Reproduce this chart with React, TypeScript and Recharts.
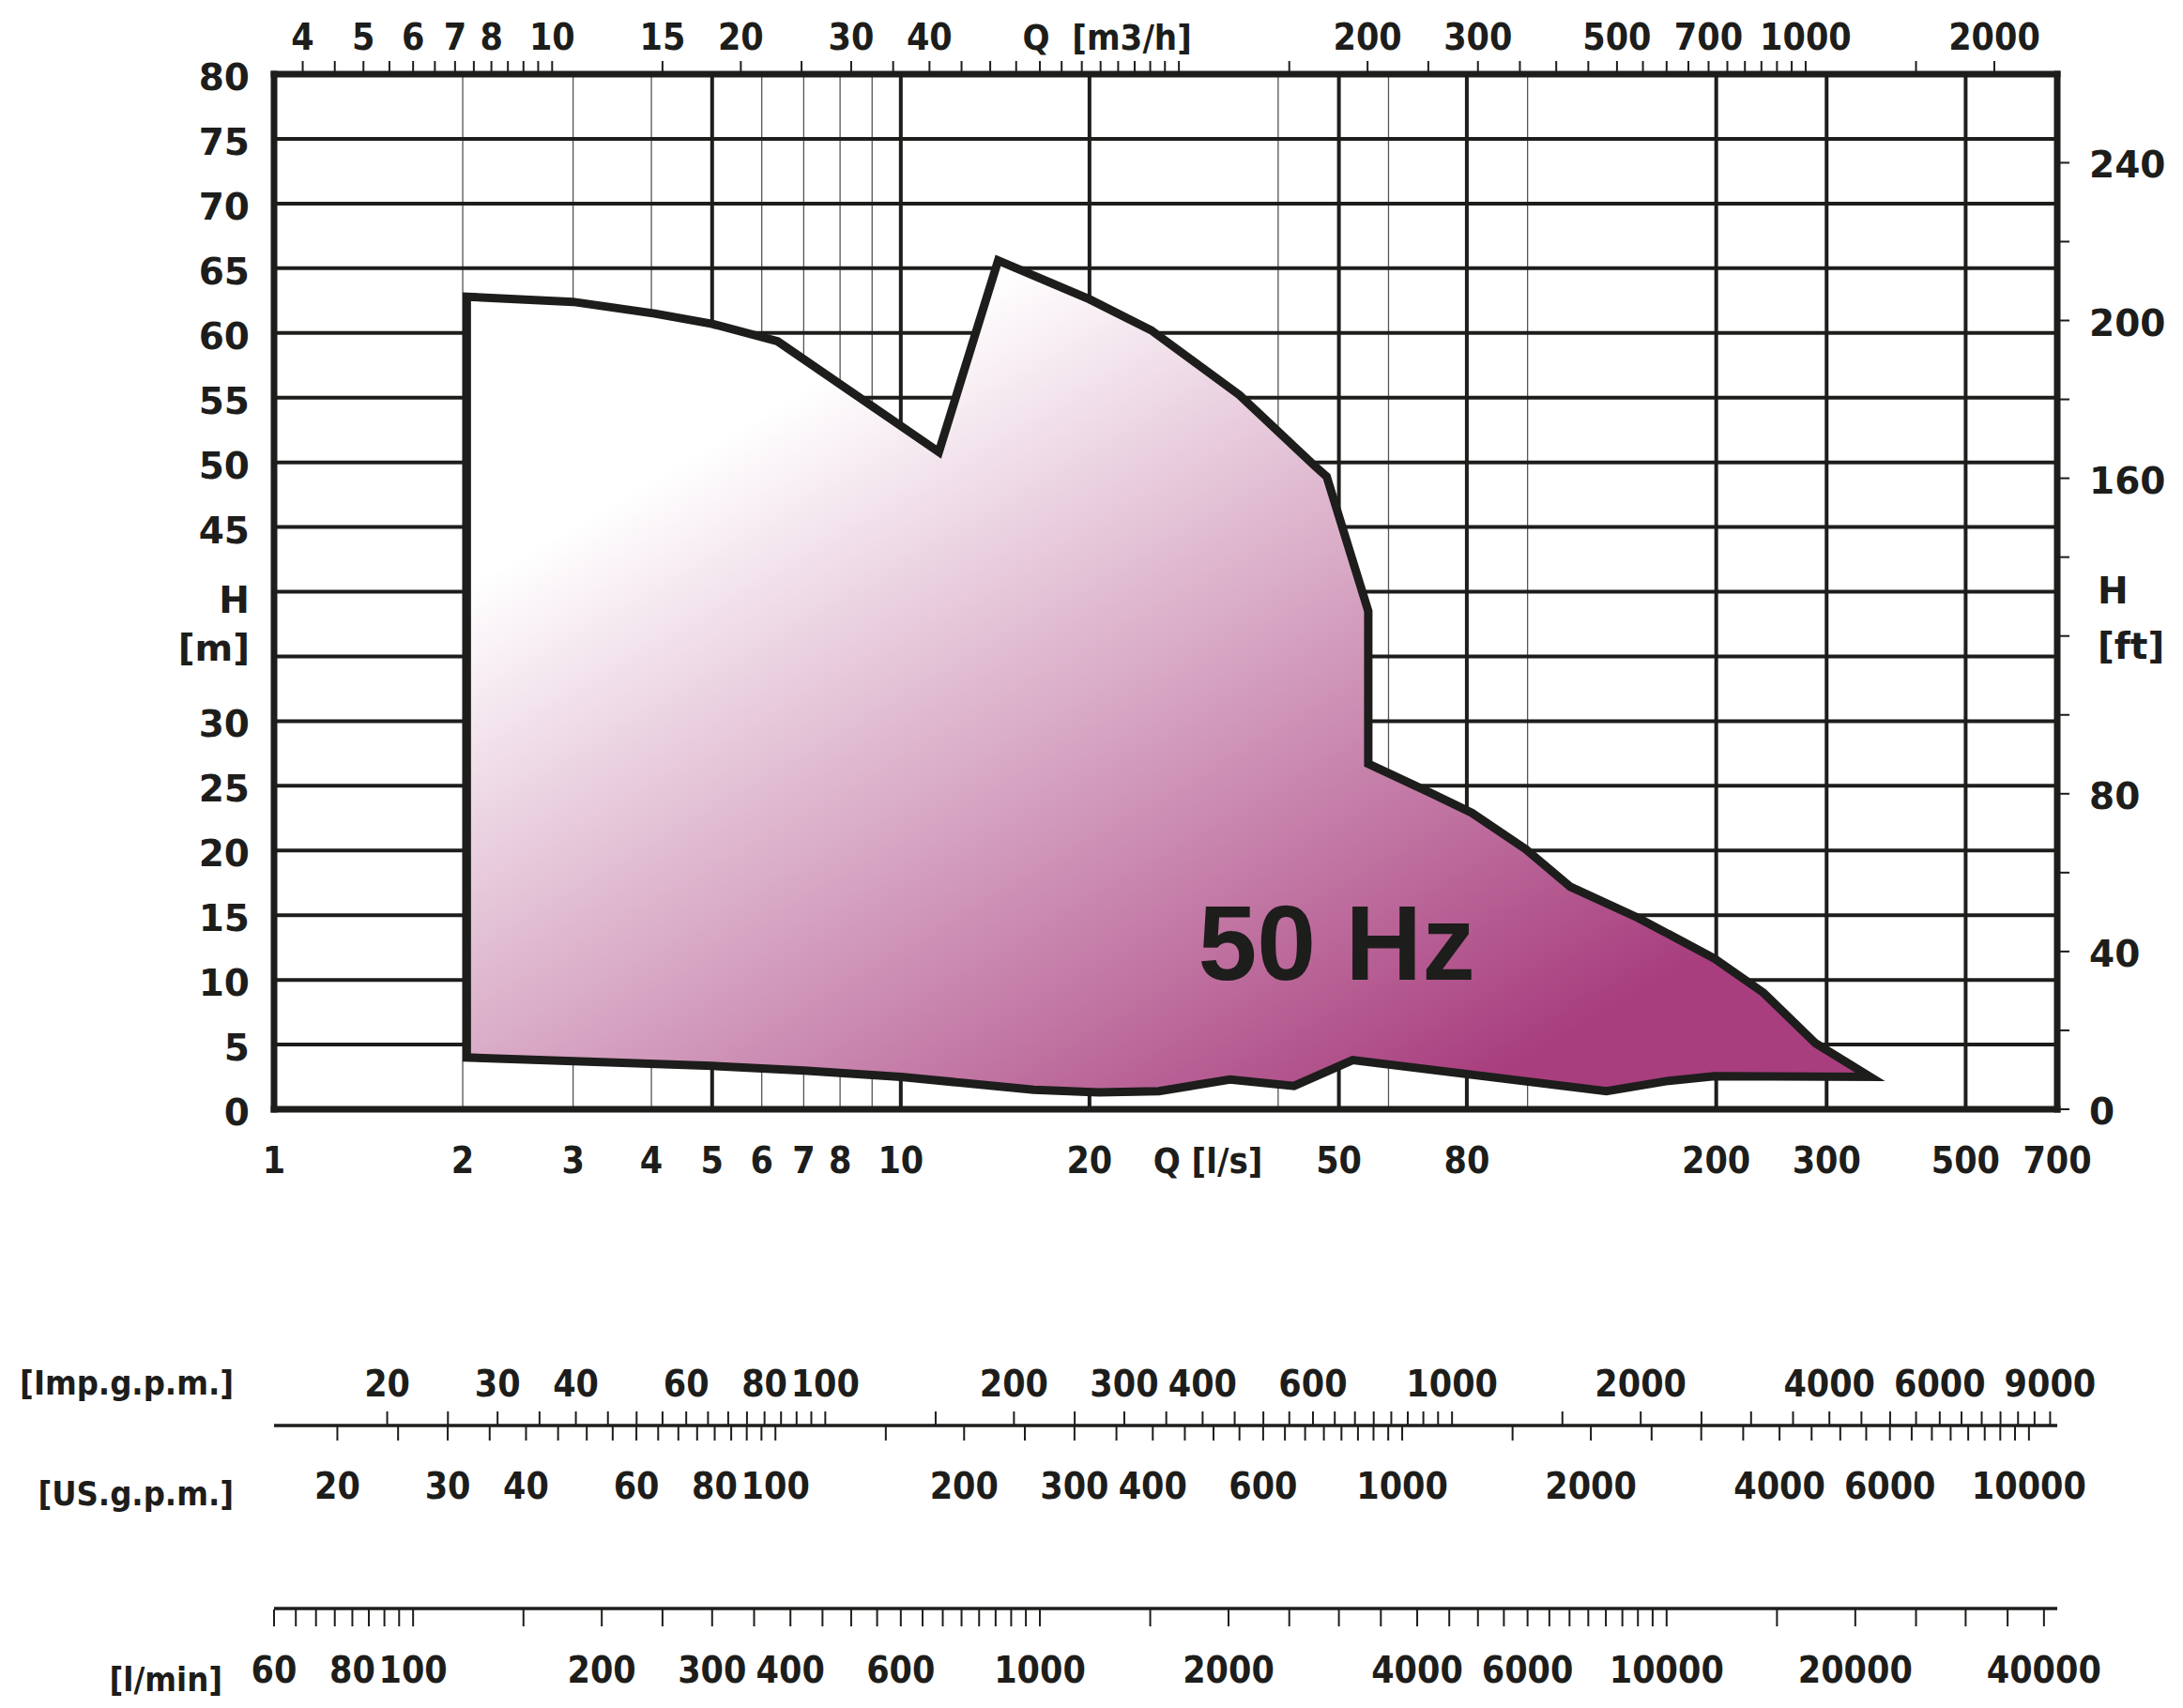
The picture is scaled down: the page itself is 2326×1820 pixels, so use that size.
import React from 'react';
import { ComposedChart, Area, Scatter, XAxis, YAxis, CartesianGrid } from 'recharts';

// Operating range outline, walked round from the lower edge (Q in l/s, H in m)
const outlineQ = [5, 2.03, 2.03, 3.0, 4.05, 5.0, 6.36, 11.5, 14.3, 20, 25.1, 34.7, 45.8, 47.8, 55.7, 55.7, 69, 81.5, 99.3, 117, 150, 198.6, 238, 288, 352, 198.6, 168, 133.6, 52.6, 42.4, 33.5, 25.8, 20.7, 16.3, 12.5, 10, 7, 5];
const outlineH = [3.35, 4.0, 62.8, 62.4, 61.5, 60.7, 59.35, 50.8, 65.6, 62.6, 60.2, 55.2, 49.7, 48.9, 38.5, 26.7, 24.6, 22.9, 20.1, 17.2, 14.8, 11.65, 9.0, 5.1, 2.5, 2.55, 2.2, 1.4, 3.8, 1.8, 2.3, 1.4, 1.3, 1.5, 2.05, 2.5, 3.0, 3.35];

const hzMark = [{ q: 29.8, h: 10, text: '50 Hz' }];

// unit conversions from l/s and m
const Q_DOMAIN = [1, 700];
const M3H = 3.6;
const IMP = 13.198;
const USG = 15.85;
const LMIN = 60;
const FT = 1 / 0.3048;
const H_DOMAIN = [0, 80];

const range = (from: number, to: number, step: number) => {
  const out: number[] = [];
  for (let v = from; v <= to + 1e-9; v += step) out.push(Math.round(v * 100) / 100);
  return out;
};

// grid
const gridH = range(0, 80, 5);
const thinGridQ = [2, 3, 4, 6, 7, 8, 9, 40, 60, 100];
const thickGridQ = [5, 10, 20, 50, 80, 200, 300, 500];

// axis ticks and labels
const lsLabels = [1, 2, 3, 4, 5, 6, 7, 8, 10, 20, 50, 80, 200, 300, 500, 700];
const m3hMarks = [...range(4, 10, 0.5), ...range(15, 100, 5), ...range(150, 1000, 50), 1500, 2000];
const m3hLabels = [4, 5, 6, 7, 8, 10, 15, 20, 30, 40, 200, 300, 500, 700, 1000, 2000];
const impMarks = [...range(20, 100, 5), ...range(150, 1000, 50), 1500, ...range(2000, 9000, 500)];
const impLabels = [20, 30, 40, 60, 80, 100, 200, 300, 400, 600, 1000, 2000, 4000, 6000, 9000];
const usMarks = [...range(20, 100, 5), ...range(150, 1000, 50), 1500, ...range(2000, 10000, 500)];
const usLabels = [20, 30, 40, 60, 80, 100, 200, 300, 400, 600, 1000, 2000, 4000, 6000, 10000];
const lminMarks = [...range(60, 100, 5), ...range(150, 1000, 50), 1500, ...range(2000, 10000, 500), ...range(15000, 40000, 5000)];
const lminLabels = [60, 80, 100, 200, 300, 400, 600, 1000, 2000, 4000, 6000, 10000, 20000, 40000];
const mLabels = [0, 5, 10, 15, 20, 25, 30, 45, 50, 55, 60, 65, 70, 75, 80];
const ftMarks = range(0, 240, 20);
const ftLabels = [0, 40, 80, 160, 200, 240];

type Name = { at: number; text: string; anchor: 'start' | 'middle' | 'end'; dx: number; dy: number; size: number };

const m3hNames: Name[] = [{ at: 56.3, text: 'Q  [m3/h]', anchor: 'start', dx: 0, dy: -26, size: 38 }];
const lsNames: Name[] = [{ at: 30.9, text: 'Q [l/s]', anchor: 'middle', dx: 0, dy: 68, size: 38 }];
const impNames: Name[] = [{ at: IMP * Q_DOMAIN[0], text: '[Imp.g.p.m.]', anchor: 'end', dx: -43, dy: -33, size: 36 }];
const usNames: Name[] = [{ at: USG * Q_DOMAIN[0], text: '[US.g.p.m.]', anchor: 'end', dx: -43, dy: 84, size: 36 }];
const lminNames: Name[] = [{ at: LMIN * Q_DOMAIN[0], text: '[l/min]', anchor: 'end', dx: -55, dy: 88, size: 36 }];
const mNames: Name[] = [
  { at: 39.6, text: 'H', anchor: 'end', dx: -26, dy: 17, size: 39 },
  { at: 35.9, text: '[m]', anchor: 'end', dx: -26, dy: 17, size: 39 },
];
const ftNames: Name[] = [
  { at: 132, text: 'H', anchor: 'start', dx: 43, dy: 16, size: 39 },
  { at: 118, text: '[ft]', anchor: 'start', dx: 43, dy: 16, size: 39 },
];

const INK = '#1d1d1b';
const FONT = '"DejaVu Sans", Verdana, sans-serif';
const NARROW = '"DejaVu Sans Condensed", "DejaVu Sans", sans-serif';
const BORDER = { stroke: INK, strokeWidth: 7, strokeLinecap: 'square' as const };
const SCALE_LINE = { stroke: INK, strokeWidth: 3.3 };

const tickValues = (marks: number[], labels: number[], names: Name[]) =>
  Array.from(new Set([...marks, ...labels, ...names.map(n => n.at)])).sort((a, b) => a - b);

const nameText = (n: Name, x: number, y: number, family: string) => (
  <text x={x + n.dx} y={y + n.dy} textAnchor={n.anchor} fontFamily={family} fontWeight="bold"
    fontSize={n.size} fill={INK} style={{ whiteSpace: 'pre' }}>{n.text}</text>
);

// tick for the horizontal scales: mark from y+a to y+b, number at y+labelDy
const hTick = (marks: number[], labels: number[], names: Name[], a: number, b: number, labelDy: number) => {
  const markSet = new Set(marks);
  const labelSet = new Set(labels);
  return (p: any) => {
    const v = p.payload.value;
    const name = names.find(n => n.at === v);
    return (
      <g>
        {markSet.has(v) && <line x1={p.x} x2={p.x} y1={p.y + a} y2={p.y + b} stroke={INK} strokeWidth={2} />}
        {labelSet.has(v) && (
          <text x={p.x} y={p.y + labelDy} textAnchor="middle" fontFamily={NARROW} fontWeight="bold" fontSize={39} fill={INK}>{v}</text>
        )}
        {name && nameText(name, p.x, p.y, NARROW)}
      </g>
    );
  };
};

const leftTick = (p: any) => {
  const v = p.payload.value;
  const name = mNames.find(n => n.at === v);
  if (name) return nameText(name, p.x, p.y, FONT);
  return (
    <text x={p.x - 26} y={p.y + 17} textAnchor="end" fontFamily={FONT} fontWeight="bold" fontSize={39} fill={INK}>{v}</text>
  );
};

const rightTick = (p: any) => {
  const v = p.payload.value;
  const name = ftNames.find(n => n.at === v);
  if (name) return nameText(name, p.x, p.y, FONT);
  return (
    <g>
      <line x1={p.x} x2={p.x + 13} y1={p.y} y2={p.y} stroke={INK} strokeWidth={2} />
      {ftLabels.includes(v) && (
        <text x={p.x + 34} y={p.y + 16} textAnchor="start" fontFamily={FONT} fontWeight="bold" fontSize={39} fill={INK}>{v}</text>
      )}
    </g>
  );
};

const hzShape = (p: any) => (
  <text x={p.cx} y={p.cy} fontFamily='"Liberation Sans", Arial, sans-serif' fontWeight="bold" fontSize={113} fill={INK}>
    {p.payload.text}
  </text>
);

const logAxis = { type: 'number' as const, scale: 'log' as const, allowDataOverflow: true, interval: 0 as const, tickSize: 0, tickMargin: 0, tickLine: false };

export default function App() {
  const data = outlineQ.map((q, i) => ({ q, h: outlineH[i] }));
  const scaled = (f: number) => [Q_DOMAIN[0] * f, Q_DOMAIN[1] * f];
  const inUnit = (f: number) => (d: any) => d.q * f;

  return (
    <div style={{ position: 'absolute', left: 0, top: 0, width: 2326, height: 1820, background: '#fff' }}>
      <ComposedChart width={2326} height={1820} data={data} margin={{ top: 0, right: 0, bottom: 0, left: 0 }}>
        <defs>
          <linearGradient id="duty" gradientUnits="userSpaceOnUse" x1={401} y1={683} x2={909} y2={1549}>
            <stop offset="0" stopColor="#ffffff" />
            <stop offset="1" stopColor="#a83e7e" />
          </linearGradient>
        </defs>

        <CartesianGrid xAxisId="q1ls" yAxisId="m" horizontal={false} verticalValues={thinGridQ} stroke="#555555" strokeWidth={1.3} />
        <CartesianGrid xAxisId="q1ls" yAxisId="m" verticalValues={thickGridQ} horizontalValues={gridH} stroke={INK} strokeWidth={4} />

        <XAxis xAxisId="q0m3h" dataKey={inUnit(M3H)} orientation="top" height={79} {...logAxis} domain={scaled(M3H)}
          ticks={tickValues(m3hMarks, m3hLabels, m3hNames)} axisLine={BORDER}
          tick={hTick(m3hMarks, m3hLabels, m3hNames, 0, -14, -26)} />
        <XAxis xAxisId="q1ls" dataKey="q" orientation="bottom" height={337} {...logAxis} domain={Q_DOMAIN}
          ticks={tickValues([], lsLabels, lsNames)} axisLine={BORDER}
          tick={hTick([], lsLabels, lsNames, 0, 0, 68)} />
        <XAxis xAxisId="q2imp" dataKey={inUnit(IMP)} orientation="bottom" height={1} {...logAxis} domain={scaled(IMP)}
          ticks={tickValues(impMarks, impLabels, impNames)} axisLine={SCALE_LINE}
          tick={hTick(impMarks, impLabels, impNames, -1, -15, -31)} />
        <XAxis xAxisId="q3us" dataKey={inUnit(USG)} orientation="bottom" height={194} {...logAxis} domain={scaled(USG)}
          ticks={tickValues(usMarks, usLabels, usNames)} axisLine={false}
          tick={hTick(usMarks, usLabels, usNames, 0, 15, 77)} />
        <XAxis xAxisId="q4lmin" dataKey={inUnit(LMIN)} orientation="bottom" height={106} {...logAxis} domain={scaled(LMIN)}
          ticks={tickValues(lminMarks, lminLabels, lminNames)} axisLine={SCALE_LINE}
          tick={hTick(lminMarks, lminLabels, lminNames, 1, 19, 79)} />

        <YAxis yAxisId="m" dataKey="h" orientation="left" width={292} type="number" domain={H_DOMAIN} allowDataOverflow
          ticks={tickValues([], mLabels, mNames)} interval={0} tickSize={0} tickMargin={0} tickLine={false}
          axisLine={BORDER} tick={leftTick} />
        <YAxis yAxisId="ft" orientation="right" width={134} type="number" domain={[H_DOMAIN[0] * FT, H_DOMAIN[1] * FT]} allowDataOverflow
          ticks={tickValues(ftMarks, ftLabels, ftNames)} interval={0} tickSize={0} tickMargin={0} tickLine={false}
          axisLine={BORDER} tick={rightTick} />

        <Area xAxisId="q1ls" yAxisId="m" dataKey="h" type="linear" stroke={INK} strokeWidth={9} strokeLinejoin="miter"
          fill="url(#duty)" fillOpacity={1} dot={false} activeDot={false} isAnimationActive={false} />
        <Scatter xAxisId="q1ls" yAxisId="m" data={hzMark} dataKey="h" shape={hzShape} isAnimationActive={false} />
      </ComposedChart>
    </div>
  );
}
